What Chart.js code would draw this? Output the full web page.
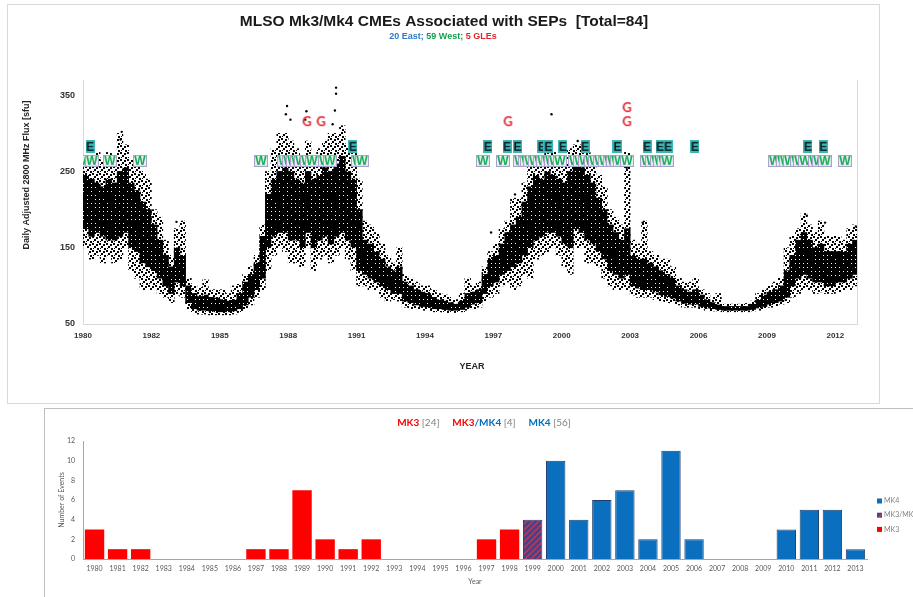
<!DOCTYPE html>
<html>
<head>
<meta charset="utf-8">
<script src="https://cdn.jsdelivr.net/npm/chart.js@4.4.1/dist/chart.umd.min.js"></script>
<style>
html, body { margin: 0; padding: 0; background: #fff; width: 913px; height: 597px; overflow: hidden; }
.panel { position: absolute; }
#p1 { left: 7px; top: 4px; border: 1px solid #d9d9d9; }
#p2 { left: 44px; top: 408px; border: 1px solid #bfbfbf; }
canvas { display: block; }
</style>
</head>
<body>
<div class="panel" id="p1"><canvas id="fluxChart" width="871" height="398"></canvas></div>
<div class="panel" id="p2"><canvas id="eventChart" width="880" height="190"></canvas></div>
<script>
// ---- top panel: daily 2800 MHz flux, quarter-year envelopes ----
const fluxStart = 1980
const fluxStep = 0.25
// one line per year, four quarters each
const fluxLow = [
  150,135,140,130, 140,130,135,150, 120,110,95,95, 95,90,85,78, 88,85,70,65,
  63,63,62,62, 62,62,63,65, 70,75,85,95, 120,140,150,145, 130,130,125,150,
  120,135,140,130, 140,150,135,120, 100,100,95,95, 85,80,82,80, 72,70,70,68,
  68,66,66,65, 65,65,66,68, 70,72,80,85, 90,100,105,95, 100,115,110,135,
  140,145,150,140, 125,115,150,150, 130,130,125,110, 100,95,95,95, 88,85,85,85,
  82,80,78,77, 75,72,72,72, 70,68,67,67, 66,66,66,66, 66,67,68,70,
  72,74,76,78, 85,90,95,95, 90,92,90,90, 92,95,95,100
]
const fluxCoreLow = [
  175,165,170,165, 160,160,165,170, 150,145,130,125, 120,110,100,90, 105,100,78,70,
  68,68,67,66, 66,66,67,70, 75,85,95,110, 150,165,170,170, 160,160,150,170,
  150,160,165,155, 165,170,160,150, 120,115,110,105, 100,95,90,90, 80,78,75,73,
  72,70,70,69, 68,68,69,72, 76,78,90,100, 105,115,120,125, 130,140,150,160,
  165,170,170,165, 155,150,175,170, 160,155,145,135, 120,115,110,115, 100,97,95,95,
  92,88,86,84, 80,77,76,76, 73,71,70,69, 68,68,68,68, 68,69,71,73,
  76,78,80,85, 100,110,115,110, 105,105,100,100, 105,105,110,115
]
const fluxCoreHigh = [
  245,240,235,230, 240,235,250,255, 235,225,210,200, 180,160,140,125, 150,140,100,90,
  86,88,85,84, 82,80,82,90, 105,115,130,165, 220,240,250,255, 250,240,235,250,
  240,245,255,250, 260,270,250,240, 200,160,155,145, 135,125,120,125, 105,100,95,92,
  90,85,82,80, 78,76,80,90, 92,95,115,135, 140,155,170,180, 190,210,230,245,
  240,250,245,240, 235,250,260,255, 245,235,215,200, 180,170,160,175, 140,135,135,130,
  125,120,115,110, 100,95,92,95, 88,82,78,75, 73,73,73,73, 73,76,82,88,
  92,95,100,120, 140,160,170,160, 150,155,145,145, 145,145,155,160
]
const fluxHigh = [
  265,270,275,265, 275,270,300,285, 265,260,250,240, 200,190,160,140, 175,185,110,100,
  98,108,95,95, 95,90,100,102, 115,125,140,180, 250,280,300,300, 290,280,270,290,
  270,280,290,300, 300,310,285,280, 240,185,180,170, 155,140,130,150, 115,110,105,100,
  100,95,90,88, 85,82,90,110, 100,105,125,145, 155,175,185,215, 215,235,260,270,
  265,275,275,270, 265,280,285,285, 275,260,245,230, 200,190,180,275, 160,155,185,145,
  140,135,135,125, 110,105,105,110, 95,90,85,90, 76,76,76,76, 77,80,90,95,
  100,105,110,150, 165,175,195,180, 170,185,165,165, 165,160,175,180
]
// isolated high days
const fluxSpikes = [
  {x:1981.70,y:302},{x:1981.65,y:292},{x:1984.10,y:184},{x:1988.95,y:336},{x:1988.90,y:325},
  {x:1989.10,y:318},{x:1989.80,y:329},{x:1989.75,y:318},{x:1990.95,y:312},{x:1991.05,y:330},
  {x:1991.10,y:352},{x:1991.10,y:360},{x:1997.90,y:170},{x:1998.95,y:220},{x:2000.55,y:325},
  {x:2001.70,y:290},{x:2003.85,y:255},{x:2003.85,y:268},{x:2004.55,y:183},{x:2011.75,y:192},
  {x:2012.55,y:183},{x:2013.90,y:178}
]

// CME events (decimal year)
const westEvents = [
  1980.00,1980.13,1980.39,1981.18,1982.50,
  1987.81,1988.82,1989.04,1989.21,1989.39,1989.56,1989.82,1990.04,1990.61,1990.83,1992.06,1992.24,
  1997.54,1998.42,1999.17,1999.39,1999.47,1999.61,1999.82,2000.04,2000.18,2000.39,
  2000.53,2000.70,2000.92,2001.58,2001.80,2002.02,2002.28,2002.46,2002.68,2002.89,
  2003.11,2003.25,2003.42,2003.55,2003.86,2004.74,2004.96,2005.18,2005.31,2005.48,2005.61,
  2010.35,2010.70,2010.83,2011.01,2011.32,2011.45,2011.67,2012.11,2012.28,2012.54,2013.42
]
const eastEvents = [
  1980.31,1991.84,1997.76,1998.60,1999.04,1999.06,2000.13,2000.39,2000.41,2001.05,
  2002.02,2003.42,2003.44,2004.74,2005.31,2005.66,2006.84,2011.80,2012.46,2012.47
]
const gleEvents = [1989.82, 1990.44, 1998.64, 2003.86, 2003.86]

const xTickValues = [1980,1983,1986,1989,1992,1995,1998,2001,2004,2007,2010,2013]
const xTickLabels = ['1980','1982','1985','1988','1991','1994','1997','2000','2003','2006','2009','2012']
const yTickValues = [50,150,250,350]

// ---- bottom panel: events per year ----
const eventYears = ['1980','1981','1982','1983','1984','1985','1986','1987','1988','1989','1990','1991',
  '1992','1993','1994','1995','1996','1997','1998','1999','2000','2001','2002','2003','2004','2005',
  '2006','2007','2008','2009','2010','2011','2012','2013']
const mk3Counts =    [3,1,1,0,0,0,0,1,1,7,2,1,2,0,0,0,0,2,3,0,0,0,0,0,0,0,0,0,0,0,0,0,0,0]
const mk3mk4Counts = [0,0,0,0,0,0,0,0,0,0,0,0,0,0,0,0,0,0,0,4,0,0,0,0,0,0,0,0,0,0,0,0,0,0]
const mk4Counts =    [0,0,0,0,0,0,0,0,0,0,0,0,0,0,0,0,0,0,0,0,10,4,6,7,2,11,2,0,0,0,3,5,5,1]

const SANS = '"Liberation Sans", Arial, sans-serif'
const SOFT = 'Lato, "Open Sans", sans-serif'
Chart.defaults.font.family = SANS

function letterBox(ch, w, h, fg, bg, edge, font) {
  const c = document.createElement('canvas')
  c.width = w; c.height = h
  const g = c.getContext('2d')
  if (bg) { g.fillStyle = bg; g.fillRect(0, 0, w, h) }
  if (edge) { g.strokeStyle = edge; g.lineWidth = 1; g.strokeRect(0.5, 0.5, w - 1, h - 1) }
  g.fillStyle = fg
  g.font = font
  g.textAlign = 'center'
  g.textBaseline = 'middle'
  g.fillText(ch, w / 2, h / 2 + 1)
  return c
}
const wMark = letterBox('W', 14, 12, '#14ad55', '#eeecf4', '#ab9fcc', 'bold 12px ' + SANS)
const eMark = letterBox('E', 9, 13, '#0b1c20', '#3ab8b6', null, 'bold 12px ' + SANS)
const gMark = letterBox('G', 11, 14, '#e2262c', null, null, 'bold 13px ' + SOFT)

// dotted fills so the daily cloud keeps some speckle
function dots(size, cells) {
  const c = document.createElement('canvas')
  c.width = size; c.height = size
  const g = c.getContext('2d')
  g.fillStyle = '#000'
  cells.forEach(p => g.fillRect(p[0], p[1], p[2], p[2]))
  return g.createPattern(c, 'repeat')
}
const coreFill = dots(4, [[0,0,2],[2,0,2],[0,2,2],[2,2,1],[3,3,1],[2,3,1]])
const outerFill = dots(7, [[0,0,2],[4,1,2],[2,3,2],[5,5,2],[1,5,1]])

const W_LEVEL = 264, E_LEVEL = 283, G_LEVEL = 316, G_STACK = 18.5

const fluxX = fluxLow.map((v, i) => fluxStart + i * fluxStep + fluxStep / 2)
const gleData = gleEvents.map((x, i) => ({ x, y: G_LEVEL + G_STACK * gleEvents.slice(0, i).filter(v => v === x).length }))

function drawParts(ctx, parts, cx, cy) {
  let total = 0
  parts.forEach(p => { ctx.font = p[2]; total += ctx.measureText(p[0]).width })
  let x = cx - total / 2
  ctx.textAlign = 'left'
  ctx.textBaseline = 'middle'
  parts.forEach(p => {
    ctx.font = p[2]
    ctx.fillStyle = p[1]
    ctx.fillText(p[0], x, cy)
    x += ctx.measureText(p[0]).width
  })
}

const fluxText = {
  id: 'fluxText',
  afterDraw(chart) {
    const ctx = chart.ctx
    ctx.save()
    ctx.fillStyle = '#1a1a1a'
    ctx.font = 'bold 15.5px ' + SANS
    ctx.textAlign = 'center'
    ctx.textBaseline = 'middle'
    ctx.fillText('MLSO Mk3/Mk4 CMEs Associated with SEPs  [Total=84]', 436, 17)
    const sub = 'bold 9px ' + SANS
    drawParts(ctx, [['20 East; ', '#2a7ac6', sub], ['59 West; ', '#12a24e', sub], ['5 GLEs', '#e0262b', sub]], 435, 32)
    ctx.fillStyle = '#262626'
    ctx.font = 'bold 9px ' + SANS
    ctx.textAlign = 'center'
    ctx.fillText('YEAR', 464, 362)
    ctx.translate(19, 170)
    ctx.rotate(-Math.PI / 2)
    ctx.fillText('Daily Adjusted 2800 MHz Flux [sfu]', 0, 0)
    ctx.restore()
  }
}

new Chart(document.getElementById('fluxChart'), {
  type: 'scatter',
  data: {
    datasets: [
      { label: 'GLE', data: gleData, pointStyle: gMark, order: 0 },
      { label: 'East', data: eastEvents.map(x => ({ x, y: E_LEVEL })), pointStyle: eMark, order: 0 },
      { label: 'West', data: westEvents.map(x => ({ x, y: W_LEVEL })), pointStyle: wMark, order: 1 },
      { label: 'spikes', data: fluxSpikes, pointRadius: 1.2, pointBorderWidth: 0, backgroundColor: '#000', order: 2 },
      { type: 'bar', label: 'core', data: fluxX.map((x, i) => ({ x, y: [fluxCoreLow[i], fluxCoreHigh[i]] })),
        backgroundColor: coreFill, barPercentage: 1, categoryPercentage: 1, grouped: false, order: 3 },
      { type: 'bar', label: 'range', data: fluxX.map((x, i) => ({ x, y: [fluxLow[i], fluxHigh[i]] })),
        backgroundColor: outerFill, barPercentage: 1, categoryPercentage: 1, grouped: false, order: 4 }
    ]
  },
  options: {
    responsive: false,
    animation: false,
    events: [],
    layout: { padding: { top: 75, right: 22, left: 0, bottom: 0 } },
    plugins: { legend: { display: false }, tooltip: { enabled: false } },
    scales: {
      x: {
        type: 'linear', min: 1980, max: 2013.95, offset: false,
        grid: { display: false, drawTicks: false },
        border: { color: '#d9d9d9' },
        afterBuildTicks: s => { s.ticks = xTickValues.map(v => ({ value: v })) },
        afterFit: s => { s.height = 79 },
        ticks: {
          autoSkip: false, maxRotation: 0, padding: 7, color: '#333',
          font: { size: 8, weight: 'bold' },
          callback: v => xTickLabels[xTickValues.indexOf(v)]
        }
      },
      y: {
        min: 50, max: 370,
        grid: { display: false, drawTicks: false },
        border: { color: '#d9d9d9' },
        afterBuildTicks: s => { s.ticks = yTickValues.map(v => ({ value: v })) },
        afterFit: s => { s.width = 75 },
        ticks: { padding: 8, color: '#333', font: { size: 9, weight: 'bold' } }
      },
      y2: {
        position: 'right', min: 50, max: 370,
        grid: { display: false, drawTicks: false },
        border: { color: '#d9d9d9' },
        ticks: { display: false },
        afterFit: s => { s.width = 0 }
      }
    }
  },
  plugins: [fluxText]
})

// ---- bottom chart ----
function hatch() {
  const c = document.createElement('canvas')
  c.width = 6; c.height = 6
  const g = c.getContext('2d')
  g.fillStyle = '#34489a'
  g.fillRect(0, 0, 6, 6)
  g.strokeStyle = '#c8324a'
  g.lineWidth = 1.6
  g.beginPath()
  g.moveTo(0, 6); g.lineTo(6, 0)
  g.moveTo(-3, 3); g.lineTo(3, -3)
  g.moveTo(3, 9); g.lineTo(9, 3)
  g.stroke()
  return g.createPattern(c, 'repeat')
}
const hatchFill = hatch()

const eventText = {
  id: 'eventText',
  afterDraw(chart) {
    const ctx = chart.ctx
    ctx.save()
    const b = 'bold 10px ' + SOFT, n = '10px ' + SOFT
    drawParts(ctx, [
      ['MK3', '#ff0000', b], [' [24]', '#7f7f7f', n], ['     ', '#7f7f7f', n],
      ['MK3', '#ff0000', b], ['/', '#0070c0', b], ['MK4', '#0070c0', b], [' [4]', '#7f7f7f', n], ['     ', '#7f7f7f', n],
      ['MK4', '#0070c0', b], [' [56]', '#7f7f7f', n]
    ], 439, 14)
    // legend, last series on top
    const ds = chart.data.datasets.slice().reverse()
    ctx.font = '7px ' + SOFT
    ctx.textBaseline = 'middle'
    ds.forEach((d, i) => {
      const y = 92 + i * 14.2
      ctx.fillStyle = d.backgroundColor
      ctx.fillRect(832, y - 2.5, 5, 5)
      ctx.fillStyle = '#7f7f7f'
      ctx.fillText(d.label, 839, y)
    })
    ctx.restore()
  }
}

new Chart(document.getElementById('eventChart'), {
  type: 'bar',
  data: {
    labels: eventYears,
    datasets: [
      { label: 'MK3', data: mk3Counts, backgroundColor: '#ff0000', borderColor: '#e60000', borderWidth: 0 },
      { label: 'MK3/MK4', data: mk3mk4Counts, backgroundColor: hatchFill, borderColor: '#2a3a78', borderWidth: 1 },
      { label: 'MK4', data: mk4Counts, backgroundColor: '#0a6fbf', borderColor: '#1d3f6e', borderWidth: 1 }
    ]
  },
  options: {
    responsive: false,
    animation: false,
    events: [],
    layout: { padding: { top: 32, right: 58, left: 0, bottom: 0 } },
    datasets: { bar: { categoryPercentage: 1, barPercentage: 0.84 } },
    plugins: { legend: { display: false }, tooltip: { enabled: false } },
    scales: {
      x: {
        stacked: true,
        grid: { display: false, drawTicks: false },
        border: { color: '#a6a6a6' },
        afterFit: s => { s.height = 40 },
        ticks: { autoSkip: false, maxRotation: 0, padding: 6, color: '#595959', font: { size: 7, family: SOFT } },
        title: { display: true, text: 'Year', color: '#595959', font: { size: 7, family: SOFT }, padding: { top: 0, bottom: 13 } }
      },
      y: {
        stacked: true, min: 0, max: 12,
        grid: { display: false, drawTicks: false },
        border: { color: '#a6a6a6' },
        afterFit: s => { s.width = 38 },
        ticks: { stepSize: 2, padding: 8, color: '#595959', font: { size: 7, family: SOFT } },
        title: { display: true, text: 'Number of Events', color: '#595959', font: { size: 7, family: SOFT }, padding: { top: 13, bottom: 0 } }
      }
    }
  },
  plugins: [eventText]
})
</script>
</body>
</html>
